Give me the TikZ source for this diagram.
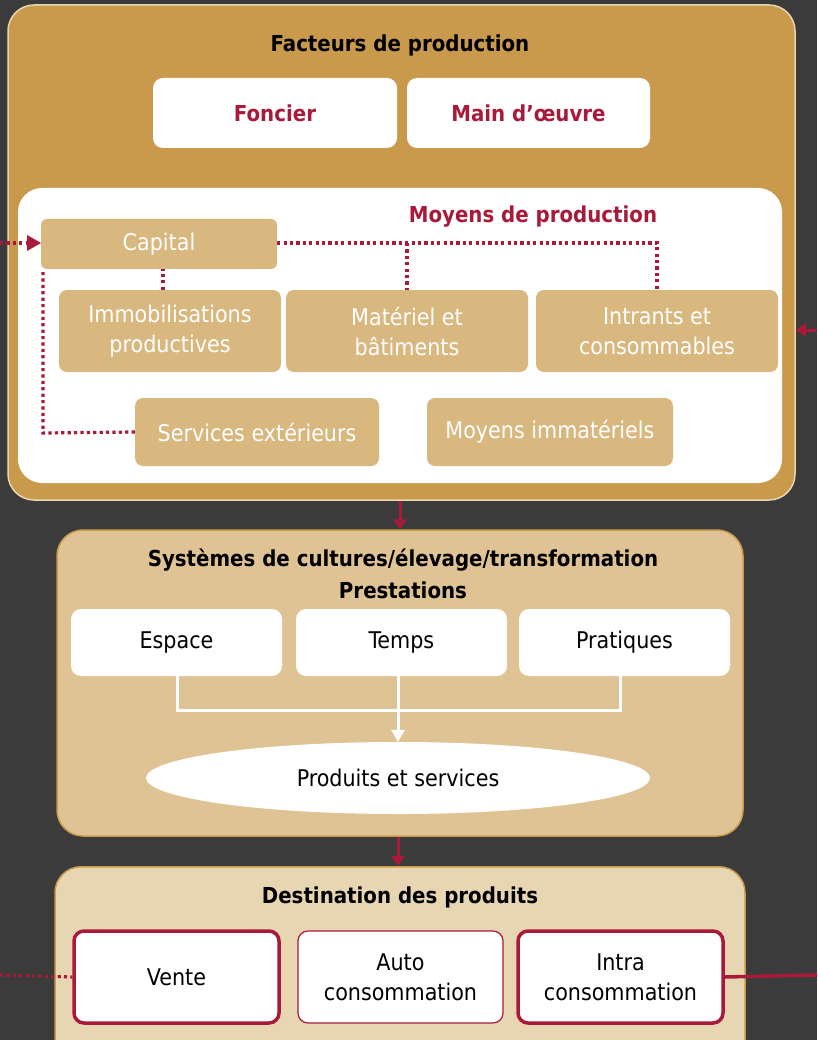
\documentclass[tikz,border=0pt]{standalone}
\usepackage{fontspec}
\setmainfont{DejaVu Sans Condensed}
\usetikzlibrary{shapes.geometric,arrows.meta}
\definecolor{bgc}{HTML}{3B3B3B}
\definecolor{gold}{HTML}{C99A4C}
\definecolor{tan}{HTML}{D9B87F}
\definecolor{midfill}{HTML}{DFC394}
\definecolor{lowfill}{HTML}{E8D6B2}
\definecolor{wred}{HTML}{A8193A}
\tikzset{
  panel/.style={draw=#1, line width=1.5pt, rounded corners=26pt, inner sep=0pt},
  tanbox/.style={fill=tan, draw=none, rounded corners=8pt, text=white, align=center, font=\fontsize{23}{30}\selectfont, inner sep=0pt},
  whitebox/.style={fill=white, draw=none, rounded corners=10pt, align=center, inner sep=0pt, font=\fontsize{23}{30}\selectfont},
  redbox/.style={fill=white, draw=wred, rounded corners=10pt, align=center, inner sep=0pt, font=\fontsize{23}{30}\selectfont},
  ttl/.style={font=\bfseries\fontsize{22}{32}\selectfont, align=center},
  dotline/.style={draw=wred, line width=3.2pt, dash pattern=on 3.2pt off 3.2pt},
  redarrow/.style={draw=wred, line width=3pt, -{Triangle[length=10pt,width=13pt]}},
  wline/.style={draw=white, line width=3pt},
}
\begin{document}
\begin{tikzpicture}[x=1pt,y=-1pt]
\useasboundingbox (0,0) rectangle (817,1040);
\fill[bgc] (0,0) rectangle (817,1040);
\clip (0,0) rectangle (817,1040);

% ---------- Facteurs de production ----------
\node[panel=lowfill, fill=gold, minimum width=787pt, minimum height=495pt] (fact) at (401.5,252.5) {};
\node[ttl] (facttitle) at (400,45) {Facteurs de production};
\node[whitebox, minimum width=244pt, minimum height=70pt, text=wred, font=\bfseries\fontsize{22}{28}\selectfont] (foncier) at (275,113) {Foncier};
\node[whitebox, minimum width=243pt, minimum height=70pt, text=wred, font=\bfseries\fontsize{22}{28}\selectfont] (main) at (528.5,113) {Main d’œuvre};

\node[fill=white, draw=none, rounded corners=24pt, minimum width=764pt, minimum height=295pt] (moyens) at (400,335.5) {};
\node[ttl, text=wred] (moytitle) at (533,217) {Moyens de production};

\node[tanbox, minimum width=236pt, minimum height=50pt, rounded corners=6pt] (capital) at (159,244) {Capital};
\node[tanbox, minimum width=222pt, minimum height=82pt] (immo) at (170,331) {Immobilisations\\productives};
\node[tanbox, minimum width=242pt, minimum height=82pt] (mat) at (407,331) {Matériel et\\bâtiments};
\node[tanbox, minimum width=242pt, minimum height=82pt] (intr) at (657,331) {Intrants et\\consommables};
\node[tanbox, minimum width=244pt, minimum height=68pt] (serv) at (257,432) {Services extérieurs};
\node[tanbox, minimum width=246pt, minimum height=68pt] (immat) at (550,432) {Moyens immatériels};

% dotted connectors
\coordinate (cR) at (657,243);
\coordinate (cM) at (407,243);
\draw[dotline] (capital.east |- cR) -- (cR) -- (cR |- intr.north);
\draw[dotline] (cM) -- (mat.north);
\draw[dotline] (immo.north -| 163,0) -- (163,269);
\coordinate (sL) at (43,433);
\draw[dotline] (serv.west) -- (sL) -- (sL |- capital.south);
\coordinate (inL) at (0,243);
\draw[dotline] (inL) -- (28,243);
\draw[draw=none, fill=wred] (27,235) -- (41,243) -- (27,251) -- cycle;
\coordinate (inR) at (817,330);
\draw[redarrow] (inR) -- (fact.east |- inR);

% ---------- Systèmes ----------
\node[panel=gold, fill=midfill, minimum width=686pt, minimum height=306pt] (sys) at (400,683) {};
\node[ttl] (systitle) at (403,574) {Systèmes de cultures/élevage/transformation\\Prestations};
\node[whitebox, minimum width=211pt, minimum height=67pt] (espace) at (176.5,642.5) {Espace};
\node[whitebox, minimum width=211pt, minimum height=67pt] (temps) at (401.5,642.5) {Temps};
\node[whitebox, minimum width=211pt, minimum height=67pt] (prat) at (624.5,642.5) {Pratiques};
\node[ellipse, fill=white, draw=none, minimum width=504pt, minimum height=72pt, inner sep=0pt, font=\fontsize{23}{30}\selectfont] (prod) at (398,778) {Produits et services};

\draw[wline] (177,676) -- (177,710) -- (620,710) -- (620,676);
\draw[wline, -{Triangle[length=12pt,width=13pt]}] (398,676) -- (prod.north);

\draw[redarrow] (fact.south -| 400,0) -- (sys.north -| 400,0);

% ---------- Destination ----------
\node[panel=gold, fill=lowfill, minimum width=690pt, minimum height=200pt, anchor=north] (dest) at (400,866) {};
\node[ttl] (desttitle) at (400,897) {Destination des produits};
\node[redbox, line width=3.5pt, minimum width=205pt, minimum height=92pt] (vente) at (176.5,977) {Vente};
\node[redbox, line width=1.2pt, minimum width=205pt, minimum height=92pt] (auto) at (400.5,977) {Auto\\consommation};
\node[redbox, line width=3.5pt, minimum width=205pt, minimum height=92pt] (intra) at (620.5,977) {Intra\\consommation};

\draw[redarrow] (sys.south -| 398,0) -- (dest.north -| 398,0);
\coordinate (outL) at (0,975);
\coordinate (outR) at (817,975);
\draw[dotline] (outL) -- (vente.west);
\draw[draw=wred, line width=3.5pt] (intra.east) -- (outR);
\end{tikzpicture}
\end{document}
